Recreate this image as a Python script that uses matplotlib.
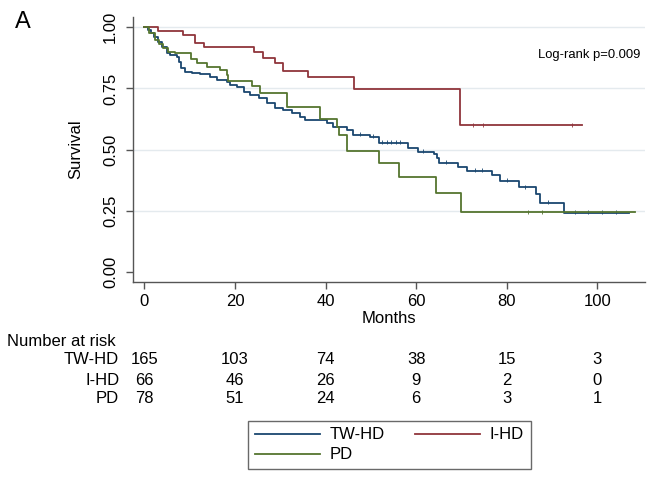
import numpy as np
import matplotlib.pyplot as plt
import matplotlib.transforms as mtransforms

plt.rcParams['font.family'] = ['Liberation Sans', 'DejaVu Sans']

# --- данные ---
tw_t = [0, 0.8, 1.5, 2.2, 3.0, 3.8, 4.9, 5.6, 7.1, 7.6, 8.2, 9.0, 10.5, 12.3, 14.5, 16.0,
        18.2, 18.9, 20.4, 21.9, 23.3, 25.2, 27.0, 28.9, 30.7, 32.5, 34.4, 35.5, 40.3, 41.7,
        44.7, 46.1, 49.8, 51.7, 58.3, 60.5, 64.0, 64.6, 65.1, 69.3, 71.3, 76.7, 78.5, 82.6,
        86.5, 87.4, 92.7]
tw_s = [1.0, 0.99, 0.975, 0.96, 0.94, 0.92, 0.894, 0.885, 0.88, 0.86, 0.832, 0.818, 0.812,
        0.81, 0.798, 0.784, 0.777, 0.764, 0.757, 0.737, 0.723, 0.71, 0.689, 0.669, 0.662,
        0.648, 0.634, 0.62, 0.607, 0.593, 0.58, 0.559, 0.552, 0.528, 0.505, 0.491, 0.48,
        0.464, 0.446, 0.43, 0.413, 0.396, 0.371, 0.345, 0.317, 0.281, 0.241]
tw_end = 106.9
tw_cens = [47.5, 50.5, 52.5, 53.5, 54.5, 55.5, 56.5, 61.5, 66.5, 73.0, 74.5, 80.0, 84.0,
           89.0, 95.0, 98.0, 101.0, 104.0]

ihd_t = [0, 3.1, 8.6, 11.2, 13.2, 24.1, 26.1, 28.9, 30.6, 36.1, 46.2, 69.7]
ihd_s = [1.0, 0.985, 0.969, 0.935, 0.92, 0.898, 0.873, 0.853, 0.822, 0.795, 0.749, 0.599]
ihd_end = 96.7
ihd_cens = [72.5, 74.7, 94.4]

pd_t = [0, 1.0, 2.3, 3.3, 4.2, 5.3, 6.8, 10.4, 11.6, 13.8, 16.6, 18.2, 18.5, 23.7, 25.5,
        31.4, 38.8, 42.6, 43.0, 44.8, 51.8, 56.1, 64.4, 69.8]
pd_s = [1.0, 0.975, 0.948, 0.93, 0.914, 0.9, 0.893, 0.869, 0.855, 0.839, 0.825, 0.805,
        0.78, 0.761, 0.73, 0.675, 0.624, 0.593, 0.559, 0.494, 0.443, 0.389, 0.323, 0.243]
pd_end = 108.3
pd_cens = [84.7, 87.8]

groups = ['TW-HD', 'I-HD', 'PD']
colors = ['#1a476f', '#90353b', '#55752f']
risk_times = [0, 20, 40, 60, 80, 100]
risk_tw = [165, 103, 74, 38, 15, 3]
risk_ihd = [66, 46, 26, 9, 2, 0]
risk_pd = [78, 51, 24, 6, 3, 1]
p_text = 'Log-rank p=0.009'


def step_value(times, surv, t):
    idx = np.searchsorted(times, t, side='right') - 1
    return np.asarray(surv)[idx]


fig = plt.figure(figsize=(6.51, 4.8), dpi=100)
ax = fig.add_axes([0.2048, 0.4115, 0.786, 0.5535])

for yv in [0.25, 0.5, 0.75, 1.0]:
    ax.axhline(yv, color='#e4eaee', linewidth=1.0, zorder=0)

series = [(tw_t, tw_s, tw_end, tw_cens), (ihd_t, ihd_s, ihd_end, ihd_cens),
          (pd_t, pd_s, pd_end, pd_cens)]
handles = []
for (t, s, end, cens), name, col in zip(series, groups, colors):
    tt = list(t) + [end]
    ss = list(s) + [s[-1]]
    h, = ax.step(tt, ss, where='post', color=col, linewidth=1.3, label=name)
    handles.append(h)
    cv = step_value(t, s, cens)
    # метки цензурирования - маленькие штрихи над линией
    ax.plot(cens, cv + 0.003, linestyle='none', marker='|', markersize=2.2,
            color=col, markeredgewidth=0.6)

ax.set_xlim(-2.43, 110.5)
ax.set_ylim(-0.044, 1.043)
ax.set_xticks(risk_times)
ax.set_yticks([0, 0.25, 0.5, 0.75, 1.0])
ax.set_yticklabels(['0.00', '0.25', '0.50', '0.75', '1.00'], rotation=90, va='center')
ax.tick_params(axis='both', labelsize=12, color='#555555', length=5, width=1, direction='out')
ax.tick_params(axis='y', pad=6)
for side in ['top', 'right']:
    ax.spines[side].set_visible(False)
for side in ['left', 'bottom']:
    ax.spines[side].set_color('#555555')
    ax.spines[side].set_linewidth(1.0)

ax.set_ylabel('Survival', fontsize=12, labelpad=14)
ax.set_xlabel('Months', fontsize=12, labelpad=1)
ax.text(0.99, 0.855, p_text, transform=ax.transAxes, ha='right', va='center', fontsize=9.4)

fig.text(0.035, 0.954, 'A', fontsize=17, ha='center', va='center')

# --- таблица "Number at risk" ---
trans = mtransforms.blended_transform_factory(ax.transData, fig.transFigure)
fig.text(0.011, 0.288, 'Number at risk', fontsize=12, ha='left', va='center')
row_y = [0.25, 0.2083, 0.169]
for name, counts, y in zip(groups, [risk_tw, risk_ihd, risk_pd], row_y):
    fig.text(0.183, y, name, fontsize=12, ha='right', va='center')
    for tx, n in zip(risk_times, counts):
        ax.text(tx, y, str(n), transform=trans, fontsize=12, ha='center', va='center',
                clip_on=False)

leg = fig.legend([handles[0], handles[2], handles[1]], ['TW-HD', 'PD', 'I-HD'],
                 loc='center', bbox_to_anchor=(0.598, 0.073), ncol=2, fontsize=12,
                 handlelength=3.9, handletextpad=0.6, columnspacing=1.8, labelspacing=0.3,
                 fancybox=False, edgecolor='#444444', borderpad=0.4)
leg.get_frame().set_linewidth(1.0)

fig.savefig('out.png', dpi=100)
